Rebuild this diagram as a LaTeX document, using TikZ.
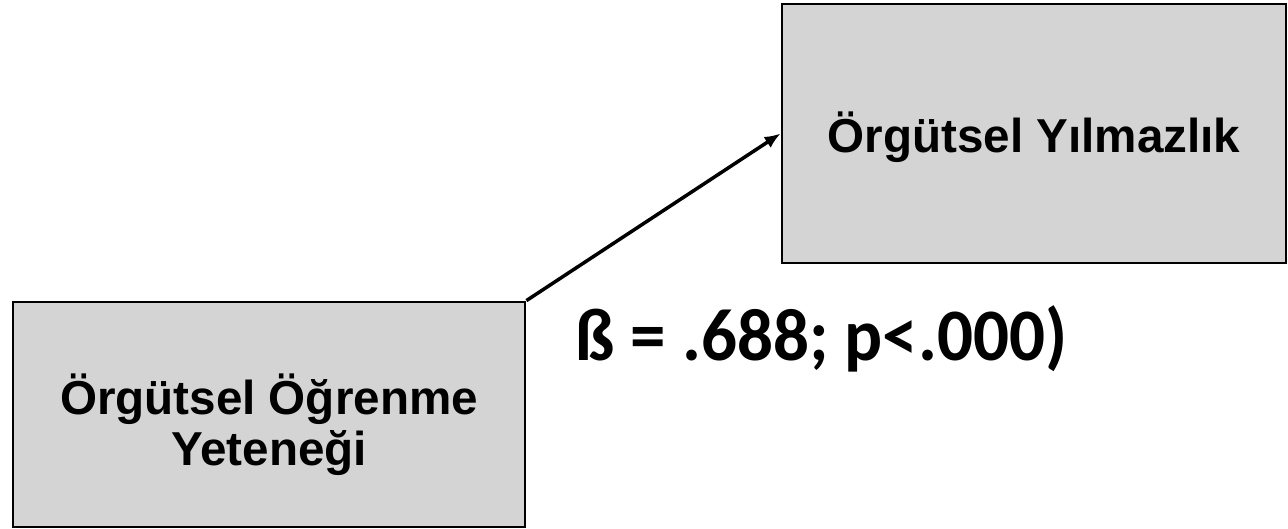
\documentclass[tikz,border=0pt]{standalone}
\usepackage{fontspec}
\setmainfont{Liberation Sans}
\newfontfamily\lblfont{Carlito}
\usetikzlibrary{arrows.meta}
\definecolor{boxgray}{HTML}{D4D4D4}
\begin{document}
\begin{tikzpicture}[x=1pt,y=-1pt,
  varbox/.style={draw=black,line width=2.8pt,fill=boxgray,inner sep=0pt,align=center,
    font=\fontsize{47.6}{51}\selectfont\bfseries},
  conn/.style={line width=3.5pt,-{Latex[length=16pt,width=13pt]}}]
\useasboundingbox (0,0) rectangle (1288,529);
\node[varbox,minimum width=512pt,minimum height=225pt] (oo) at (269,414.5) {\rule{0pt}{62pt}Örgütsel Öğrenme\\Yeteneği};
\node[varbox,minimum width=504pt,minimum height=259pt] (oy) at (1034,133.5) {\rule{0pt}{48pt}Örgütsel Yılmazlık};
\draw[conn] (oo.north east) -- (oy.west);
\node[anchor=base west,inner sep=0pt,font=\lblfont\fontsize{74}{80}\selectfont\bfseries] (lbl) at (575,360) {\scalebox{0.96}[1]{ß = .688; p<.000)}};
\end{tikzpicture}
\end{document}
